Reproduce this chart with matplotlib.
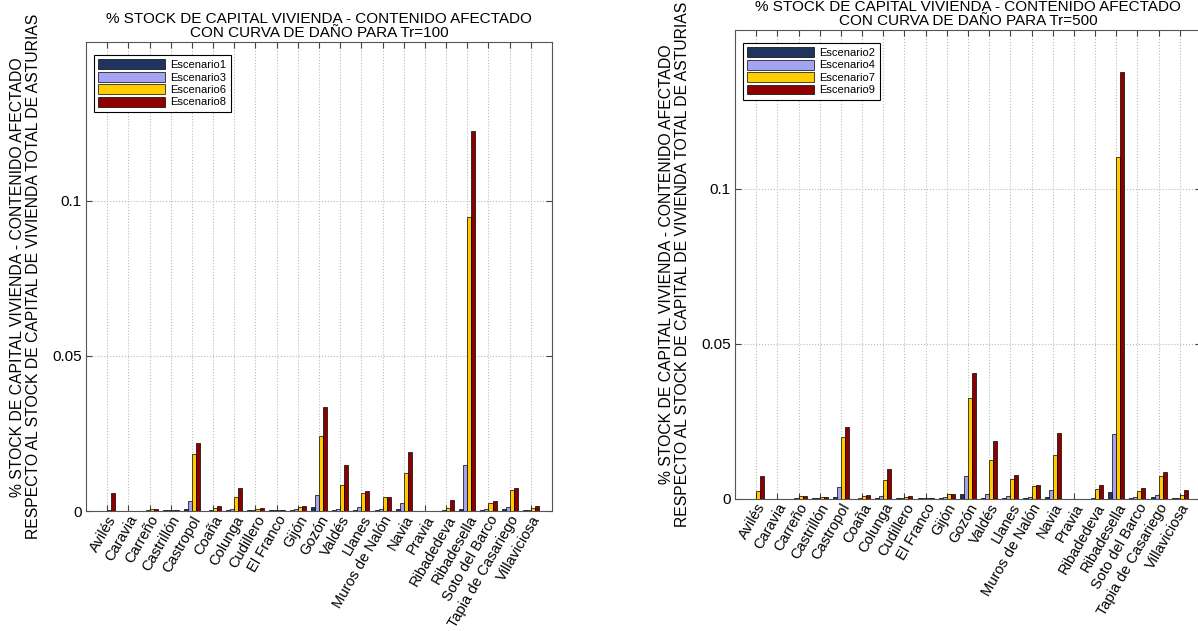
import numpy as np
import matplotlib
matplotlib.use("Agg")
import matplotlib.pyplot as plt

plt.rcParams['font.family'] = ['Liberation Sans', 'DejaVu Sans']

municipios = ["Avilés", "Caravia", "Carreño", "Castrillón", "Castropol", "Coaña",
              "Colunga", "Cudillero", "El Franco", "Gijón", "Gozón", "Valdés",
              "Llanes", "Muros de Nalón", "Navia", "Pravia", "Ribadedeva",
              "Ribadesella", "Soto del Barco", "Tapia de Casariego", "Villaviciosa"]

# Tr=100
esc1 = [0.0000, 0.0000, 0.0001, 0.0002, 0.0008, 0.0001, 0.0002, 0.0002, 0.0002, 0.0003, 0.0012,
        0.0003, 0.0003, 0.0003, 0.0006, 0.0000, 0.0001, 0.0006, 0.0003, 0.0006, 0.0002]
esc3 = [0.0001, 0.0000, 0.0002, 0.0002, 0.0034, 0.0003, 0.0007, 0.0003, 0.0003, 0.0007, 0.0051,
        0.0008, 0.0012, 0.0006, 0.0025, 0.0000, 0.0002, 0.0149, 0.0006, 0.0014, 0.0003]
esc6 = [0.0003, 0.0000, 0.0008, 0.0003, 0.0183, 0.0011, 0.0045, 0.0008, 0.0003, 0.0013, 0.0241,
        0.0084, 0.0057, 0.0044, 0.0124, 0.0000, 0.0009, 0.0947, 0.0025, 0.0068, 0.0011]
esc8 = [0.0058, 0.0000, 0.0008, 0.0004, 0.0218, 0.0015, 0.0075, 0.0010, 0.0003, 0.0015, 0.0335,
        0.0150, 0.0065, 0.0046, 0.0190, 0.0000, 0.0037, 0.1224, 0.0032, 0.0073, 0.0018]

# Tr=500
esc2 = [0.0000, 0.0000, 0.0001, 0.0002, 0.0005, 0.0001, 0.0002, 0.0002, 0.0002, 0.0003, 0.0017,
        0.0003, 0.0003, 0.0003, 0.0006, 0.0000, 0.0001, 0.0024, 0.0002, 0.0006, 0.0002]
esc4 = [0.0001, 0.0000, 0.0003, 0.0003, 0.0038, 0.0003, 0.0009, 0.0003, 0.0003, 0.0005, 0.0074,
        0.0015, 0.0011, 0.0008, 0.0029, 0.0000, 0.0002, 0.0209, 0.0005, 0.0014, 0.0004]
esc7 = [0.0027, 0.0000, 0.0009, 0.0005, 0.0199, 0.0011, 0.0061, 0.0008, 0.0003, 0.0016, 0.0326,
        0.0127, 0.0065, 0.0042, 0.0143, 0.0000, 0.0031, 0.1102, 0.0026, 0.0073, 0.0014]
esc9 = [0.0074, 0.0001, 0.0009, 0.0005, 0.0231, 0.0014, 0.0098, 0.0010, 0.0003, 0.0017, 0.0406,
        0.0188, 0.0076, 0.0046, 0.0213, 0.0000, 0.0044, 0.1375, 0.0034, 0.0086, 0.0029]

colors = ["#1f3560", "#a3a3f2", "#ffcc00", "#8e0000"]
ylabel = ("% STOCK DE CAPITAL VIVIENDA - CONTENIDO AFECTADO\n"
          "RESPECTO AL STOCK DE CAPITAL DE VIVIENDA TOTAL DE ASTURIAS")
titles = ["% STOCK DE CAPITAL VIVIENDA - CONTENIDO AFECTADO\nCON CURVA DE DAÑO PARA Tr=100",
          "% STOCK DE CAPITAL VIVIENDA - CONTENIDO AFECTADO\nCON CURVA DE DAÑO PARA Tr=500"]

fig = plt.figure(figsize=(11.98, 6.31), dpi=100)
ax1 = fig.add_axes([0.0718, 0.190, 0.389, 0.743])
ax2 = fig.add_axes([0.6135, 0.2092, 0.389, 0.743])

panels = [
    (ax1, [esc1, esc3, esc6, esc8], ["Escenario1", "Escenario3", "Escenario6", "Escenario8"], titles[0]),
    (ax2, [esc2, esc4, esc7, esc9], ["Escenario2", "Escenario4", "Escenario7", "Escenario9"], titles[1]),
]

x = np.arange(1, len(municipios) + 1)
bw = 0.19
for ax, series, names, title in panels:
    for i, (vals, c, n) in enumerate(zip(series, colors, names)):
        ax.bar(x + (i - 1.5) * bw, vals, width=bw, color=c, edgecolor="black",
               linewidth=0.5, label=n, zorder=3)
    ax.set_xlim(0, 22)
    ax.set_ylim(0, 0.151)
    ax.set_xticks(x)
    ax.set_xticklabels(municipios, rotation=60, ha="right", rotation_mode="anchor",
                       fontsize=10.5)
    ax.set_yticks([0, 0.05, 0.1])
    ax.set_yticklabels(["0", "0.05", "0.1"], fontsize=11)
    ax.tick_params(axis="both", direction="in", length=4, top=True, right=True,
                   color="#444444", pad=3)
    ax.tick_params(axis="x", pad=1.5)
    ax.grid(True, linestyle=":", color="#bbbbbb", linewidth=0.8, zorder=0)
    for s in ax.spines.values():
        s.set_color("#555555")
        s.set_linewidth(0.8)
    ax.set_title(title, fontsize=11, pad=4, linespacing=1.0)
    ax.set_ylabel(ylabel, fontsize=11.3, labelpad=8, linespacing=1.1)
    leg = ax.legend(loc="upper left", fontsize=8, fancybox=False, framealpha=1,
                    edgecolor="black", handlelength=6, handleheight=1.0,
                    borderpad=0.4, labelspacing=0.15, handletextpad=0.5,
                    bbox_to_anchor=(0.005, 0.985))
    leg.get_frame().set_linewidth(0.8)

fig.savefig("out.png", dpi=100, facecolor="white")
